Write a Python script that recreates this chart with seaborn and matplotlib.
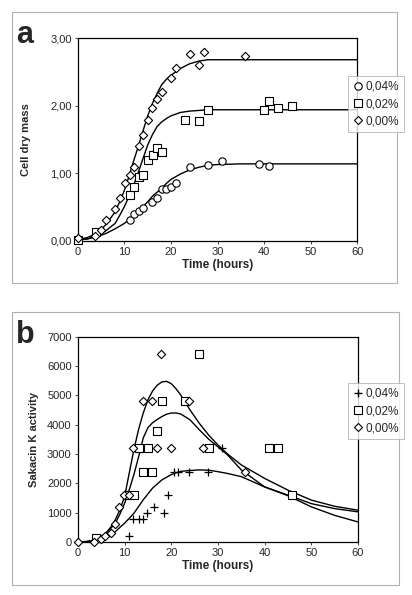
import matplotlib
matplotlib.use("Agg")
import matplotlib.pyplot as plt
import seaborn as sns
from matplotlib.patches import Rectangle
from matplotlib.lines import Line2D
from matplotlib.ticker import FuncFormatter

# ---- panel a: cell dry mass ----
a_x_000 = [0, 3.6, 5.0, 6.1, 8.0, 9.1, 10.1, 11.1, 12.1, 13.1, 14.0, 15.1, 16.0, 17.1, 18.1, 20.0, 21.0, 24.1, 26.0, 27.1, 36.0]
a_y_000 = [0.04, 0.07, 0.16, 0.31, 0.47, 0.64, 0.85, 0.97, 1.09, 1.40, 1.56, 1.79, 1.96, 2.10, 2.20, 2.41, 2.56, 2.77, 2.60, 2.80, 2.74]
a_x_002 = [0, 4.0, 11.1, 12.0, 13.1, 14.0, 15.1, 16.1, 17.1, 18.1, 23.1, 26.0, 28.0, 39.9, 41.0, 43.0, 45.9]
a_y_002 = [0.02, 0.13, 0.68, 0.80, 0.95, 0.98, 1.19, 1.27, 1.38, 1.31, 1.79, 1.77, 1.94, 1.94, 2.07, 1.97, 2.00]
a_x_004 = [0, 11.1, 12.1, 13.1, 14.0, 16.0, 17.1, 18.1, 19.0, 20.0, 21.0, 24.1, 28.0, 31.0, 39.0, 41.0]
a_y_004 = [0.02, 0.31, 0.40, 0.45, 0.49, 0.58, 0.64, 0.77, 0.77, 0.80, 0.85, 1.09, 1.13, 1.18, 1.14, 1.11]

# fitted curves
ca_t = [0, 2, 4, 6, 8, 9, 10, 11, 12, 13, 14, 15, 16, 17, 18, 19, 20, 22, 24, 26, 28, 30, 35, 40, 50, 60]
ca_000 = [0.02, 0.05, 0.11, 0.24, 0.43, 0.58, 0.75, 0.96, 1.19, 1.40, 1.63, 1.85, 2.03, 2.18, 2.31, 2.39, 2.45, 2.55, 2.62, 2.66, 2.68, 2.68, 2.68, 2.68, 2.68, 2.68]
ca_002 = [0.02, 0.03, 0.07, 0.15, 0.26, 0.38, 0.51, 0.66, 0.83, 1.02, 1.22, 1.42, 1.57, 1.69, 1.76, 1.81, 1.85, 1.90, 1.92, 1.93, 1.94, 1.94, 1.94, 1.94, 1.94, 1.94]
ca_004 = [0.02, 0.03, 0.06, 0.11, 0.18, 0.22, 0.26, 0.32, 0.38, 0.44, 0.51, 0.58, 0.66, 0.72, 0.78, 0.85, 0.91, 0.99, 1.05, 1.09, 1.12, 1.13, 1.14, 1.14, 1.14, 1.14]

# ---- panel b: sakacin K activity ----
b_x_004 = [0, 5.0, 10.9, 11.9, 13.1, 13.9, 14.9, 16.4, 18.4, 19.4, 20.5, 21.4, 23.9, 27.9, 30.9]
b_y_004 = [0, 100, 200, 800, 800, 800, 1000, 1200, 1000, 1600, 2400, 2400, 2400, 2400, 3200]
b_x_002 = [3.9, 10.9, 12.0, 13.1, 13.9, 15.0, 15.9, 17.0, 18.0, 23.0, 25.9, 28.0, 40.9, 42.9, 45.9]
b_y_002 = [130, 1600, 1600, 3200, 2400, 3200, 2400, 3800, 4800, 4800, 6400, 3200, 3200, 3200, 1600]
b_x_000 = [0, 3.5, 5.0, 5.9, 7.0, 7.9, 8.9, 9.9, 10.9, 11.9, 13.9, 15.9, 16.9, 17.9, 19.9, 23.8, 26.8, 35.9]
b_y_000 = [0, 0, 100, 200, 300, 600, 1200, 1600, 1600, 3200, 4800, 4800, 3200, 6400, 3200, 4800, 3200, 2400]

cb_t = [0, 2, 4, 5, 6, 7, 8, 9, 10, 11, 12, 13, 14, 15, 16, 17, 18, 19, 20, 21, 22, 24, 26, 28, 30, 32, 35, 40, 45, 50, 55, 60]
cb_000 = [0, 20, 80, 180, 300, 500, 750, 1100, 1550, 2350, 3150, 3840, 4400, 4850, 5150, 5350, 5460, 5480, 5400, 5230, 5020, 4510, 4050, 3650, 3310, 3010, 2630, 2170, 1770, 1430, 1220, 1085]
cb_002 = [0, 20, 80, 170, 300, 460, 640, 950, 1320, 1780, 2300, 2900, 3550, 3900, 4070, 4180, 4280, 4360, 4400, 4400, 4370, 4170, 3830, 3510, 3250, 2980, 2460, 1880, 1600, 1310, 1140, 1030]
cb_004 = [0, 10, 50, 100, 170, 260, 350, 500, 640, 810, 980, 1210, 1440, 1640, 1840, 1980, 2120, 2210, 2300, 2360, 2410, 2440, 2460, 2450, 2400, 2340, 2230, 1880, 1580, 1200, 910, 685]

labels = ["0,04%", "0,02%", "0,00%"]

sns.set_style("ticks")
plt.rcParams["font.family"] = ["Liberation Sans", "DejaVu Sans"]

fig = plt.figure(figsize=(4.12, 5.95), dpi=100)

# light gray frames around the two panels
for rect in [(0.029, 0.524, 0.934, 0.455), (0.029, 0.017, 0.939, 0.459)]:
    fig.patches.append(Rectangle(rect[:2], rect[2], rect[3], transform=fig.transFigure,
                                 fill=False, edgecolor="#b0b0b0", linewidth=0.8))

ax1 = fig.add_axes([0.189, 0.595, 0.678, 0.341])
ax2 = fig.add_axes([0.189, 0.089, 0.680, 0.345])

mk = dict(facecolor="white", edgecolor="black", linewidth=0.8, legend=False, zorder=3, clip_on=False)
line = dict(color="black", linewidth=1.0, legend=False)

# panel a
for y in [ca_000, ca_002, ca_004]:
    sns.lineplot(x=ca_t, y=y, ax=ax1, **line)
sns.scatterplot(x=a_x_004, y=a_y_004, marker="o", s=28, ax=ax1, **mk)
sns.scatterplot(x=a_x_002, y=a_y_002, marker="s", s=28, ax=ax1, **mk)
sns.scatterplot(x=a_x_000, y=a_y_000, marker="D", s=18, ax=ax1, **mk)

# panel b
for y in [cb_000, cb_002, cb_004]:
    sns.lineplot(x=cb_t, y=y, ax=ax2, **line)
sns.scatterplot(x=b_x_004, y=b_y_004, marker="+", s=34, color="black", linewidth=0.9,
                legend=False, zorder=3, clip_on=False, ax=ax2)
sns.scatterplot(x=b_x_002, y=b_y_002, marker="s", s=28, ax=ax2, **mk)
sns.scatterplot(x=b_x_000, y=b_y_000, marker="D", s=18, ax=ax2, **mk)

ax1.set_xlim(0, 60)
ax1.set_ylim(0, 3)
ax1.set_yticks([0, 1, 2, 3])
ax1.yaxis.set_major_formatter(FuncFormatter(lambda v, p: f"{v:.2f}".replace(".", ",")))
ax1.set_ylabel("Cell dry mass", fontsize=8, fontweight="bold", labelpad=14)

ax2.set_xlim(0, 60)
ax2.set_ylim(0, 7000)
ax2.set_yticks(range(0, 7001, 1000))
ax2.set_ylabel("Sakacin K activity", fontsize=8, fontweight="bold", labelpad=6)

for ax in (ax1, ax2):
    ax.set_xticks(range(0, 61, 10))
    ax.set_xlabel("Time (hours)", fontsize=8.5, fontweight="bold", labelpad=1)
    ax.tick_params(labelsize=8, length=2.5, width=0.6, pad=2)
    for s in ax.spines.values():
        s.set_linewidth(0.9)
        s.set_color("black")

# legends outside the right edge
def handles(first):
    kw = dict(linestyle="none", markerfacecolor="white", markeredgecolor="black", markeredgewidth=0.8)
    if first == "+":
        h0 = Line2D([], [], marker="+", markersize=6, linestyle="none", color="black")
    else:
        h0 = Line2D([], [], marker="o", markersize=5.3, **kw)
    return [h0,
            Line2D([], [], marker="s", markersize=5.3, **kw),
            Line2D([], [], marker="D", markersize=4.0, **kw)]

for hnd, anchor in [(handles("o"), (0.845, 0.872)), (handles("+"), (0.845, 0.356))]:
    leg = fig.legend(hnd, labels, loc="upper left", bbox_to_anchor=anchor, fontsize=8.5,
                     frameon=True, fancybox=False, handlelength=0.8, handletextpad=0.3,
                     borderpad=0.4, labelspacing=0.45, borderaxespad=0)
    leg.get_frame().set_edgecolor("#b0b0b0")
    leg.get_frame().set_linewidth(0.7)

fig.text(0.04, 0.928, "a", fontsize=22, fontweight="bold", va="baseline")
fig.text(0.04, 0.424, "b", fontsize=22, fontweight="bold", va="baseline")

fig.savefig("out.png", dpi=100)
